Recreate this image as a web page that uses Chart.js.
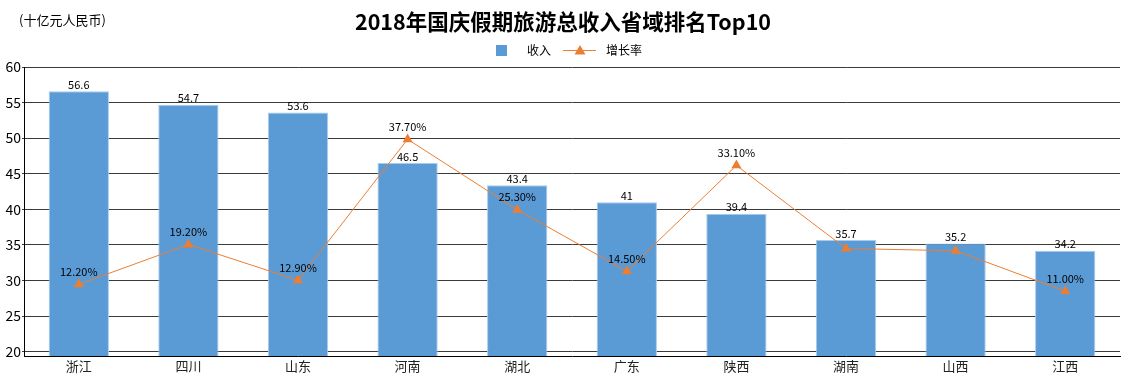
<!DOCTYPE html>
<html><head><meta charset="utf-8">
<script src="https://cdn.jsdelivr.net/npm/chart.js@4/dist/chart.umd.min.js"></script>
<style>html,body{margin:0;padding:0;background:#fff;}#wrap{width:1134px;height:384px;}</style>
</head><body><div id="wrap"><canvas id="c" width="1134" height="384"></canvas></div>
<script>
const categories = ['浙江','四川','山东','河南','湖北','广东','陕西','湖南','山西','江西'];
const income = [56.6, 54.7, 53.6, 46.5, 43.4, 41, 39.4, 35.7, 35.2, 34.2];
const growth = [12.2, 19.2, 12.9, 37.7, 25.3, 14.5, 33.1, 18.5, 18.1, 11.0];
const incomeLabels = ['56.6','54.7','53.6','46.5','43.4','41','39.4','35.7','35.2','34.2'];
const growthLabels = ['12.20%','19.20%','12.90%','37.70%','25.30%','14.50%','33.10%','','','11.00%'];
const yTicks = [20, 25, 30, 35, 40, 45, 50, 55, 60];

const FONT = '"Noto Sans CJK SC", "Noto Sans", sans-serif';
const BLUE = '#5B9BD5', ORANGE = '#ED7D31';

const deco = {
  id: 'deco',
  afterDatasetsDraw(chart) {
    const ctx = chart.ctx;
    ctx.save();
    ctx.fillStyle = '#000';
    ctx.textAlign = 'center';
    ctx.textBaseline = 'bottom';
    ctx.font = '11px ' + FONT;
    const m0 = chart.getDatasetMeta(0);
    m0.data.forEach((b, i) => { ctx.fillText(incomeLabels[i], b.x, b.y - 1); });
    const m1 = chart.getDatasetMeta(1);
    m1.data.forEach((p, i) => { if (growthLabels[i]) ctx.fillText(growthLabels[i], p.x, p.y - 7); });
    ctx.restore();
  },
  afterDraw(chart) {
    const ctx = chart.ctx;
    ctx.save();
    ctx.fillStyle = '#000';
    ctx.textBaseline = 'middle';
    ctx.textAlign = 'center';
    ctx.font = 'bold 21.5px ' + FONT;
    ctx.fillText('2018年国庆假期旅游总收入省域排名Top10', 563, 22);
    ctx.textAlign = 'left';
    ctx.font = '13px ' + FONT;
    ctx.fillText('(十亿元人民币)', 19, 20);
    // legend
    ctx.fillStyle = BLUE;
    ctx.fillRect(496, 45, 11, 11);
    ctx.fillStyle = '#000';
    ctx.font = '12px ' + FONT;
    ctx.fillText('收入', 527, 50);
    ctx.strokeStyle = ORANGE; ctx.lineWidth = 1;
    ctx.beginPath(); ctx.moveTo(563, 50.5); ctx.lineTo(596, 50.5); ctx.stroke();
    ctx.fillStyle = ORANGE;
    ctx.beginPath(); ctx.moveTo(580, 45); ctx.lineTo(585.5, 54.5); ctx.lineTo(574.5, 54.5); ctx.closePath(); ctx.fill();
    ctx.fillStyle = '#000';
    ctx.fillText('增长率', 606, 50);
    ctx.restore();
  }
};

new Chart(document.getElementById('c'), {
  data: {
    labels: categories,
    datasets: [
      { type: 'bar', label: '收入', data: income, backgroundColor: BLUE, borderColor: '#A9CBEC', borderWidth: 1,
        barPercentage: 0.55, categoryPercentage: 1.0, yAxisID: 'y', order: 2 },
      { type: 'line', label: '增长率', data: growth, borderColor: ORANGE, backgroundColor: ORANGE, borderWidth: 1,
        pointStyle: 'triangle', pointRadius: 5.8, pointBackgroundColor: ORANGE, pointBorderWidth: 0,
        yAxisID: 'y1', order: 1, tension: 0 }
    ]
  },
  options: {
    responsive: false, animation: false, devicePixelRatio: 1,
    layout: { padding: { top: 67, left: 0, right: 14, bottom: 0 } },
    plugins: { legend: { display: false }, title: { display: false }, tooltip: { enabled: false } },
    scales: {
      x: {
        grid: { display: false, drawTicks: false },
        border: { display: true, color: '#000', width: 1 },
        ticks: { font: { family: FONT, size: 13 }, color: '#222', padding: 2 },
        afterFit(s) { s.height = 28; }
      },
      y: {
        position: 'left', min: 19.4, max: 60,
        afterBuildTicks(s) { s.ticks = yTicks.map(v => ({ value: v })); },
        grid: { color: '#3a3a3a', lineWidth: 1, drawTicks: true, tickLength: 2 },
        border: { display: true, color: '#000', width: 1 },
        ticks: { font: { family: FONT, size: 14 }, color: '#000', padding: 1 },
        afterFit(s) { s.width = 24; }
      },
      y1: { position: 'right', display: false, min: -0.4, max: 50.4 }
    }
  },
  plugins: [deco]
});
</script></body></html>
